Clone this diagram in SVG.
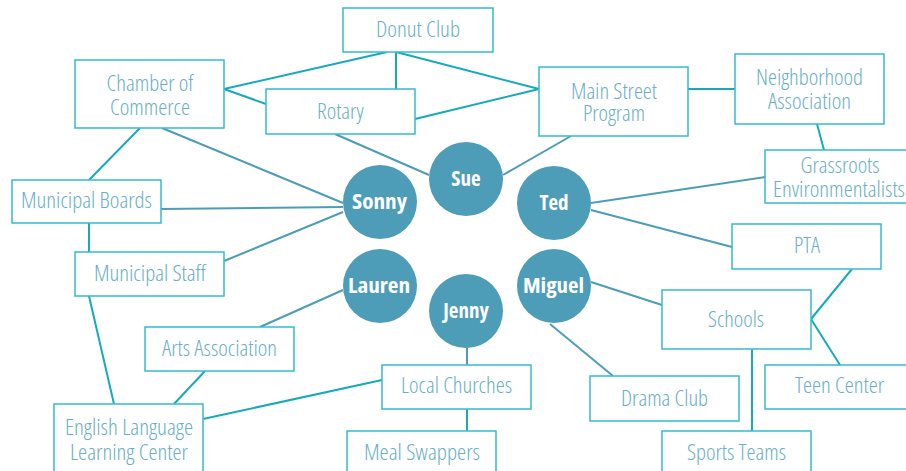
<svg xmlns="http://www.w3.org/2000/svg" width="906" height="471" viewBox="0 0 906 471">
<style>
.box rect{fill:#fff;stroke:#33bccb;stroke-width:1.5}
.box text{font-family:"Open Sans","Liberation Sans",sans-serif;font-weight:300;font-stretch:condensed;font-size:22px;fill:#6aafc5;text-anchor:middle}
.p circle{fill:#4d9db8}
.p text{font-family:"Open Sans","Liberation Sans",sans-serif;font-weight:700;font-stretch:condensed;font-size:21px;fill:#fff;text-anchor:middle}
.c1{stroke:#17abba;stroke-width:2;fill:none}
.c2{stroke:#4d9db8;stroke-width:2;fill:none}
</style>
<rect width="906" height="471" fill="#fff"/>
<g id="connectors">
<line class="c1" x1="387" y1="52" x2="224" y2="89"/>
<line class="c1" x1="396" y1="52" x2="396" y2="89"/>
<line class="c1" x1="396" y1="52" x2="539" y2="89"/>
<line class="c1" x1="224" y1="89" x2="266" y2="104"/>
<line class="c1" x1="415" y1="119" x2="539" y2="89"/>
<line class="c2" x1="335" y1="134" x2="429" y2="175"/>
<line class="c2" x1="162" y1="128" x2="343" y2="203"/>
<line class="c2" x1="161" y1="209" x2="343" y2="207"/>
<line class="c2" x1="224" y1="261" x2="343" y2="212"/>
<line class="c1" x1="140" y1="128" x2="89" y2="180"/>
<line class="c1" x1="89" y1="223" x2="89" y2="252"/>
<line class="c1" x1="89" y1="296" x2="114" y2="404"/>
<line class="c1" x1="205" y1="371" x2="174" y2="404"/>
<line class="c2" x1="260" y1="327" x2="343" y2="290"/>
<line class="c1" x1="203" y1="419" x2="382" y2="380"/>
<line class="c2" x1="467" y1="348" x2="467" y2="365"/>
<line class="c1" x1="467" y1="409" x2="467" y2="431"/>
<line class="c2" x1="503" y1="175" x2="571" y2="136"/>
<line class="c2" x1="591" y1="203" x2="765" y2="177"/>
<line class="c2" x1="591" y1="210" x2="732" y2="247"/>
<line class="c1" x1="817" y1="124" x2="824" y2="150"/>
<line class="c1" x1="688" y1="89" x2="735" y2="89"/>
<line class="c2" x1="591" y1="282" x2="662" y2="305"/>
<line class="c2" x1="550" y1="324" x2="613" y2="376"/>
<line class="c1" x1="852" y1="269" x2="811" y2="319"/>
<line class="c1" x1="811" y1="319" x2="840" y2="365"/>
<line class="c1" x1="752" y1="349" x2="752" y2="431"/>
</g>
<g id="donut-club" class="box"><rect x="343" y="8" width="150" height="44"/><text x="418" y="37" textLength="84" lengthAdjust="spacingAndGlyphs">Donut Club</text></g>
<g id="chamber" class="box"><rect x="75" y="60" width="149" height="68"/><text x="150" y="91" textLength="87" lengthAdjust="spacingAndGlyphs">Chamber of</text><text x="150" y="115" textLength="80" lengthAdjust="spacingAndGlyphs">Commerce</text></g>
<g id="rotary" class="box"><rect x="266" y="89" width="149" height="45"/><text x="340.5" y="119" textLength="47" lengthAdjust="spacingAndGlyphs">Rotary</text></g>
<g id="main-street" class="box"><rect x="539" y="67" width="149" height="69"/><text x="614" y="99" textLength="86" lengthAdjust="spacingAndGlyphs">Main Street</text><text x="614" y="121" textLength="62" lengthAdjust="spacingAndGlyphs">Program</text></g>
<g id="neighborhood" class="box"><rect x="735" y="54" width="149" height="70"/><text x="809.5" y="85" textLength="107" lengthAdjust="spacingAndGlyphs">Neighborhood</text><text x="809.5" y="109" textLength="83" lengthAdjust="spacingAndGlyphs">Association</text></g>
<g id="grassroots" class="box"><rect x="765" y="150" width="150" height="53"/><text x="840" y="173" textLength="79" lengthAdjust="spacingAndGlyphs">Grassroots</text><text x="839" y="197" textLength="132" lengthAdjust="spacingAndGlyphs">Environmentalists</text></g>
<g id="municipal-boards" class="box"><rect x="12" y="180" width="149" height="43"/><text x="86.5" y="208" textLength="131" lengthAdjust="spacingAndGlyphs">Municipal Boards</text></g>
<g id="pta" class="box"><rect x="732" y="224" width="149" height="45"/><text x="807" y="253" textLength="26" lengthAdjust="spacingAndGlyphs">PTA</text></g>
<g id="municipal-staff" class="box"><rect x="75" y="252" width="149" height="44"/><text x="150" y="281" textLength="112" lengthAdjust="spacingAndGlyphs">Municipal Staff</text></g>
<g id="schools" class="box"><rect x="662" y="290" width="149" height="59"/><text x="736" y="327" textLength="56" lengthAdjust="spacingAndGlyphs">Schools</text></g>
<g id="arts" class="box"><rect x="145" y="327" width="149" height="44"/><text x="219.5" y="356" textLength="115" lengthAdjust="spacingAndGlyphs">Arts Association</text></g>
<g id="local-churches" class="box"><rect x="382" y="365" width="149" height="44"/><text x="456.5" y="393" textLength="111" lengthAdjust="spacingAndGlyphs">Local Churches</text></g>
<g id="teen-center" class="box"><rect x="765" y="365" width="150" height="44"/><text x="839.5" y="393" textLength="89" lengthAdjust="spacingAndGlyphs">Teen Center</text></g>
<g id="drama-club" class="box"><rect x="590" y="376" width="149" height="45"/><text x="664.5" y="406" textLength="87" lengthAdjust="spacingAndGlyphs">Drama Club</text></g>
<g id="english" class="box"><rect x="54" y="404" width="149" height="70"/><text x="129" y="435" textLength="128" lengthAdjust="spacingAndGlyphs">English Language</text><text x="129" y="460" textLength="118" lengthAdjust="spacingAndGlyphs">Learning Center</text></g>
<g id="meal-swappers" class="box"><rect x="347" y="431" width="149" height="45"/><text x="422" y="460" textLength="116" lengthAdjust="spacingAndGlyphs">Meal Swappers</text></g>
<g id="sports-teams" class="box"><rect x="662" y="431" width="149" height="45"/><text x="736.5" y="460" textLength="99" lengthAdjust="spacingAndGlyphs">Sports Teams</text></g>
<g id="sue" class="p"><circle cx="466" cy="179" r="37"/><text x="466" y="186">Sue</text></g>
<g id="sonny" class="p"><circle cx="380" cy="202" r="37"/><text x="379.5" y="209" textLength="55" lengthAdjust="spacingAndGlyphs">Sonny</text></g>
<g id="ted" class="p"><circle cx="554" cy="203" r="37"/><text x="554" y="210">Ted</text></g>
<g id="lauren" class="p"><circle cx="380" cy="286" r="37"/><text x="379" y="293" textLength="62" lengthAdjust="spacingAndGlyphs">Lauren</text></g>
<g id="jenny" class="p"><circle cx="466" cy="311" r="37"/><text x="466" y="318">Jenny</text></g>
<g id="miguel" class="p"><circle cx="554" cy="286" r="37"/><text x="553.5" y="293" textLength="61" lengthAdjust="spacingAndGlyphs">Miguel</text></g>
</svg>
